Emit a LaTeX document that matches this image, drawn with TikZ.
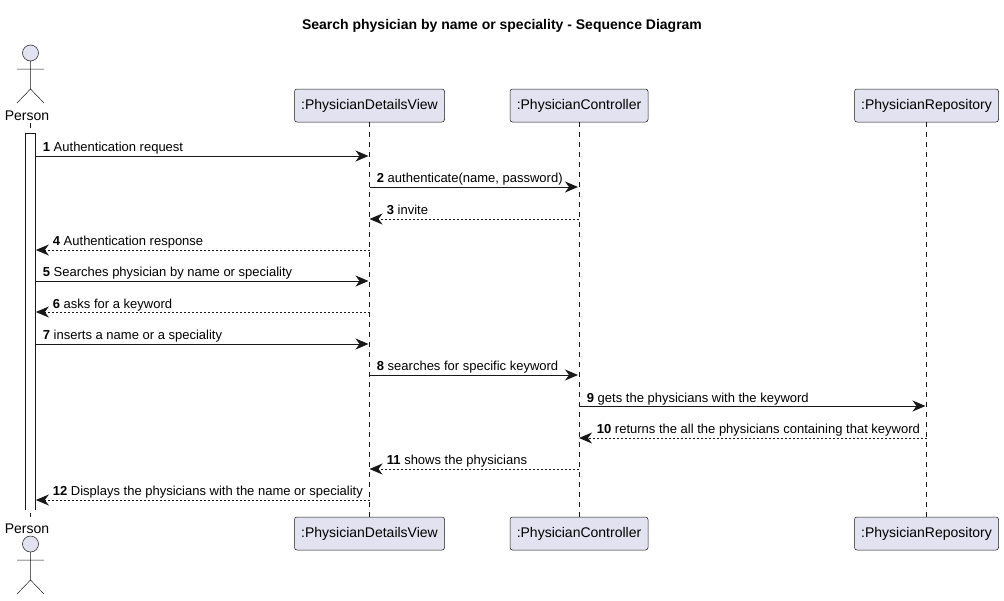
\documentclass[tikz,border=0pt]{standalone}
\usepackage{fontspec}
\setmainfont{Liberation Sans}
\usetikzlibrary{arrows.meta}
\definecolor{ink}{HTML}{181818}
\definecolor{boxfill}{HTML}{E2E2F0}
\tikzset{
  x=1pt,y=-1pt,
  part/.style={draw=ink,line width=0.5pt,fill=boxfill,rounded corners=2.5pt,minimum height=33pt,inner sep=0pt,font=\fontsize{14}{16}\selectfont,text=black},
  life/.style={draw=ink,line width=0.5pt,dash pattern=on 5pt off 5pt},
  figure/.style={draw=ink,line width=0.5pt},
  actlabel/.style={inner sep=0pt,font=\fontsize{14}{16}\selectfont},
  tipped/.style={draw=ink,line width=1pt,-{Stealth[length=13pt,width=11pt,inset=4pt]}},
  call/.style={tipped,shorten >=1pt},
  reply/.style={tipped,dash pattern=on 2pt off 2pt},
  lab/.style={anchor=base west,inner sep=0pt,font=\fontsize{13}{15}\selectfont,text=black},
}
\newcommand{\stick}[2]{%
  \draw[figure,fill=boxfill] (#1,#2) circle[radius=8];
  \draw[figure] (#1,#2+8) -- (#1,#2+36) (#1-13.5,#2+16) -- (#1+13.5,#2+16)
    (#1-13.5,#2+50) -- (#1,#2+36) -- (#1+13.5,#2+50);}
\begin{document}
\begin{tikzpicture}
\useasboundingbox (0,0) rectangle (1004,600);
\fill[white] (0,0) rectangle (1004,600);
\node[inner sep=0pt,font=\bfseries\fontsize{14}{16}\selectfont] (title) at (502,26) {Search physician by name or speciality - Sequence Diagram};

\node[part,minimum width=150pt] (view) at (369.5,105.5) {:PhysicianDetailsView};
\node[part,minimum width=138pt] (ctrl) at (579,105.5) {:PhysicianController};
\node[part,minimum width=144pt] (repo) at (926.5,105.5) {:PhysicianRepository};
\node[part,minimum width=150pt] (viewb) at (369.5,533.5) {:PhysicianDetailsView};
\node[part,minimum width=138pt] (ctrlb) at (579,533.5) {:PhysicianController};
\node[part,minimum width=144pt] (repob) at (926.5,533.5) {:PhysicianRepository};

\node[actlabel] (person) at (27,116) {Person};
\node[actlabel] (personb) at (27,528.5) {Person};
\stick{30.5}{53}
\stick{30.5}{544}

\draw[life] (view) -- (viewb);
\draw[life] (ctrl) -- (ctrlb);
\draw[life] (repo) -- (repob);
\coordinate (ptop) at (30.5,123);
\coordinate (pbot) at (30.5,517);
\draw[life] (ptop) -- (pbot);
\node[draw=ink,line width=0.7pt,fill=white,minimum width=10pt,minimum height=377pt,inner sep=0pt] (act) at (30.5,321.5) {};
\draw[white,line width=1.5pt] (act.south west) -- (act.south east);

\draw[call]  (act.east |- 0,156) -- (view.south |- 0,156);
\draw[call]  (view.south |- 0,187) -- (ctrl.south |- 0,187);
\draw[reply] (ctrl.south |- 0,219) -- (view.south |- 0,219);
\draw[reply] (view.south |- 0,250) -- (act.east |- 0,250);
\draw[call]  (act.east |- 0,281) -- (view.south |- 0,281);
\draw[reply] (view.south |- 0,312) -- (act.east |- 0,312);
\draw[call]  (act.east |- 0,344) -- (view.south |- 0,344);
\draw[call]  (view.south |- 0,375) -- (ctrl.south |- 0,375);
\draw[call]  (ctrl.south |- 0,406) -- (repo.south |- 0,406);
\draw[reply] (repo.south |- 0,438) -- (ctrl.south |- 0,438);
\draw[reply] (ctrl.south |- 0,469) -- (view.south |- 0,469);
\draw[reply] (view.south |- 0,500) -- (act.east |- 0,500);

\node[lab] (m1) at (42.7,151) {\textbf{1} Authentication request};
\node[lab] (m2) at (376.7,182) {\textbf{2} authenticate(name, password)};
\node[lab] (m3) at (386.7,214) {\textbf{3} invite};
\node[lab] (m4) at (52.7,245) {\textbf{4} Authentication response};
\node[lab] (m5) at (42.7,276) {\textbf{5} Searches physician by name or speciality};
\node[lab] (m6) at (52.7,308) {\textbf{6} asks for a keyword};
\node[lab] (m7) at (42.7,339) {\textbf{7} inserts a name or a speciality};
\node[lab] (m8) at (376.7,370) {\textbf{8} searches for specific keyword};
\node[lab] (m9) at (586.7,402) {\textbf{9} gets the physicians with the keyword};
\node[lab] (m10) at (596.7,433) {\textbf{10} returns the all the physicians containing that keyword};
\node[lab] (m11) at (386.7,464) {\textbf{11} shows the physicians};
\node[lab] (m12) at (52.7,495) {\textbf{12} Displays the physicians with the name or speciality};
\end{tikzpicture}
\end{document}
